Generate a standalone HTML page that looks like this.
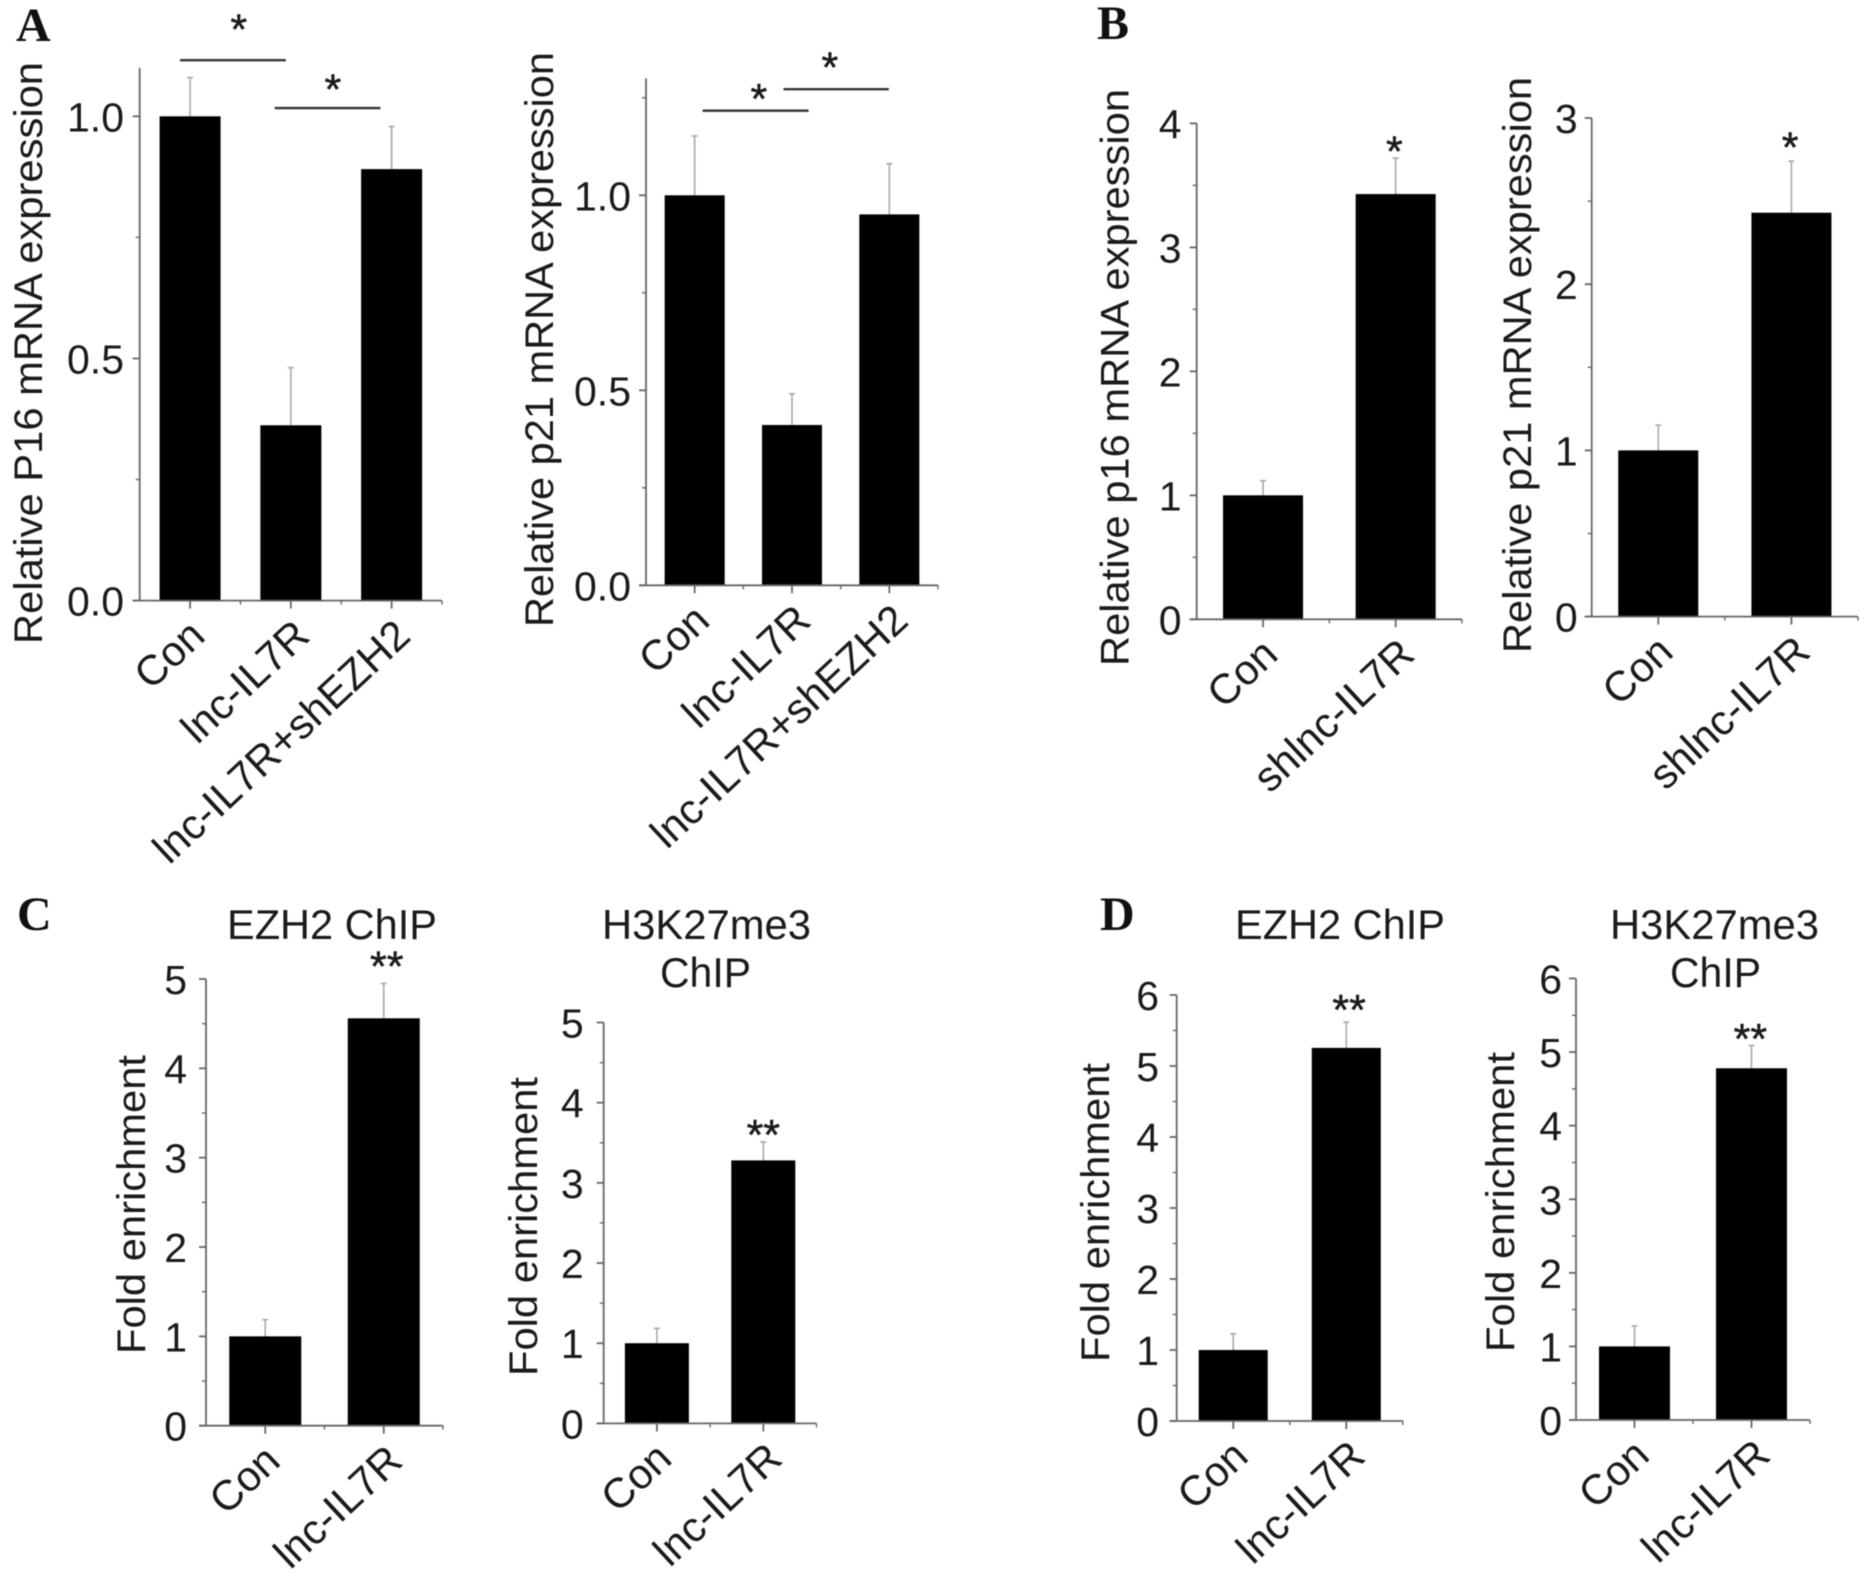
<!DOCTYPE html>
<html lang="en">
<head>
<meta charset="utf-8">
<title>lnc-IL7R qPCR and ChIP bar charts</title>
<style>
html,body{margin:0;padding:0;background:#fff;}
svg{display:block;position:absolute;left:0;top:0;filter:blur(0.6px);}
text{font-family:"Liberation Sans",Arial,sans-serif;fill:#1a1a1a;}
.panel-letter{font-family:"Liberation Serif","Times New Roman",serif;font-weight:bold;font-size:48px;fill:#111;}
</style>
</head>
<body>
<svg id="figure" xmlns="http://www.w3.org/2000/svg" width="1871" height="1580" viewBox="0 0 1871 1580">
<rect x="0" y="0" width="1871" height="1580" fill="#fff"/>
<text class="panel-letter" x="16" y="41">A</text>
<text class="panel-letter" x="1097" y="39">B</text>
<text class="panel-letter" x="17" y="930">C</text>
<text class="panel-letter" x="1100" y="930">D</text>
</svg>
<script>
// ---- Chart data ----
const threeCategories = ['Con', 'lnc-IL7R', 'lnc-IL7R+shEZH2'];
const gainCategories = ['Con', 'lnc-IL7R'];
const knockdownCategories = ['Con', 'shlnc-IL7R'];

const a1Values = [1.0, 0.362, 0.891];
const a1ErrorTops = [1.08, 0.481, 0.979];
const a1MajorTicks = [0, 0.5, 1.0];
const a1TickLabels = ['0.0', '0.5', '1.0'];
const a1MinorTicks = [0.25, 0.75];

const a2Values = [1.0, 0.411, 0.951];
const a2ErrorTops = [1.152, 0.491, 1.081];
const a2MajorTicks = [0, 0.5, 1.0];
const a2TickLabels = ['0.0', '0.5', '1.0'];
const a2MinorTicks = [0.25, 0.75, 1.25];

const b1Values = [1.0, 3.43];
const b1ErrorTops = [1.118, 3.72];
const b1MajorTicks = [0, 1, 2, 3, 4];
const b1TickLabels = ['0', '1', '2', '3', '4'];
const b1MinorTicks = [0.5, 1.5, 2.5, 3.5];

const b2Values = [1.0, 2.43];
const b2ErrorTops = [1.152, 2.74];
const b2MajorTicks = [0, 1, 2, 3];
const b2TickLabels = ['0', '1', '2', '3'];
const b2MinorTicks = [0.5, 1.5, 2.5];

const c1Values = [1.0, 4.56];
const c1ErrorTops = [1.187, 4.95];
const c1MajorTicks = [0, 1, 2, 3, 4, 5];
const c1TickLabels = ['0', '1', '2', '3', '4', '5'];
const c1MinorTicks = [0.5, 1.5, 2.5, 3.5, 4.5];

const c2Values = [1.0, 3.28];
const c2ErrorTops = [1.186, 3.51];
const c2MajorTicks = [0, 1, 2, 3, 4, 5];
const c2TickLabels = ['0', '1', '2', '3', '4', '5'];
const c2MinorTicks = [0.5, 1.5, 2.5, 3.5, 4.5];

const d1Values = [1.0, 5.255];
const d1ErrorTops = [1.228, 5.617];
const d1MajorTicks = [0, 1, 2, 3, 4, 5, 6];
const d1TickLabels = ['0', '1', '2', '3', '4', '5', '6'];
const d1MinorTicks = [0.5, 1.5, 2.5, 3.5, 4.5, 5.5];

const d2Values = [1.0, 4.78];
const d2ErrorTops = [1.279, 5.09];
const d2MajorTicks = [0, 1, 2, 3, 4, 5, 6];
const d2TickLabels = ['0', '1', '2', '3', '4', '5', '6'];
const d2MinorTicks = [0.5, 1.5, 2.5, 3.5, 4.5, 5.5];

// Significance brackets, in category-index / value coordinates
const a1BracketStarts = [-0.1, 0.84];
const a1BracketEnds = [0.95, 1.89];
const a1BracketLevels = [1.116, 1.017];
const a2BracketStarts = [0.081, 0.913];
const a2BracketEnds = [1.17, 1.995];
const a2BracketLevels = [1.217, 1.272];

// Significance marks, in category-index / value coordinates
const a1MarkText = ['*', '*'];
const a1MarkCategory = [0.483, 1.417];
const a1MarkLevel = [1.189, 1.065];
const a2MarkText = ['*', '*'];
const a2MarkCategory = [0.66, 1.389];
const a2MarkLevel = [1.259, 1.339];
const b1MarkText = ['*'];
const b1MarkCategory = [0.99];
const b1MarkLevel = [3.81];
const b2MarkText = ['*'];
const b2MarkCategory = [0.99];
const b2MarkLevel = [2.85];
const c1MarkText = ['**'];
const c1MarkCategory = [1.025];
const c1MarkLevel = [5.19];
const c2MarkText = ['**'];
const c2MarkCategory = [1.0];
const c2MarkLevel = [3.65];
const d1MarkText = ['**'];
const d1MarkCategory = [1.025];
const d1MarkLevel = [5.85];
const d2MarkText = ['**'];
const d2MarkCategory = [0.99];
const d2MarkLevel = [5.24];

// ---- Panel definitions ----
const charts = [
  {id:'a1', yTitle:'Relative P16 mRNA expression', cats:threeCategories, vals:a1Values, errs:a1ErrorTops, major:a1MajorTicks, labels:a1TickLabels, minor:a1MinorTicks,
   left:139.7, right:442, bottom:600.6, top:67.9, yMax:1.1, barW:61, labelRight:124, titleX:42, titleBottom:644, titleTop:62,
   brS:a1BracketStarts, brE:a1BracketEnds, brL:a1BracketLevels, mT:a1MarkText, mC:a1MarkCategory, mL:a1MarkLevel},
  {id:'a2', yTitle:'Relative p21 mRNA expression', cats:threeCategories, vals:a2Values, errs:a2ErrorTops, major:a2MajorTicks, labels:a2TickLabels, minor:a2MinorTicks,
   left:646, right:938, bottom:585.3, top:78.3, yMax:1.3, barW:60, labelRight:631, titleX:553, titleBottom:627, titleTop:52,
   brS:a2BracketStarts, brE:a2BracketEnds, brL:a2BracketLevels, mT:a2MarkText, mC:a2MarkCategory, mL:a2MarkLevel},
  {id:'b1', yTitle:'Relative p16 mRNA expression', cats:knockdownCategories, vals:b1Values, errs:b1ErrorTops, major:b1MajorTicks, labels:b1TickLabels, minor:b1MinorTicks,
   left:1196.7, right:1462, bottom:619.3, top:123.4, yMax:4, barW:80, labelRight:1181.5, titleX:1128.5, titleBottom:666, titleTop:89,
   mT:b1MarkText, mC:b1MarkCategory, mL:b1MarkLevel},
  {id:'b2', yTitle:'Relative p21 mRNA expression', cats:knockdownCategories, vals:b2Values, errs:b2ErrorTops, major:b2MajorTicks, labels:b2TickLabels, minor:b2MinorTicks,
   left:1591.7, right:1858, bottom:616.6, top:118, yMax:3, barW:80, labelRight:1577.7, titleX:1531, titleBottom:653, titleTop:77,
   mT:b2MarkText, mC:b2MarkCategory, mL:b2MarkLevel},
  {id:'c1', yTitle:'Fold enrichment', cats:gainCategories, vals:c1Values, errs:c1ErrorTops, major:c1MajorTicks, labels:c1TickLabels, minor:c1MinorTicks,
   left:206, right:443, bottom:1425.7, top:979, yMax:5, barW:72, labelRight:187, titleX:145, titleBottom:1354, titleTop:1055,
   mT:c1MarkText, mC:c1MarkCategory, mL:c1MarkLevel},
  {id:'c2', yTitle:'Fold enrichment', cats:gainCategories, vals:c2Values, errs:c2ErrorTops, major:c2MajorTicks, labels:c2TickLabels, minor:c2MinorTicks,
   left:603.7, right:816.5, bottom:1423.4, top:1022.5, yMax:5, barW:64, labelRight:583.7, titleX:537, titleBottom:1376, titleTop:1077,
   mT:c2MarkText, mC:c2MarkCategory, mL:c2MarkLevel},
  {id:'d1', yTitle:'Fold enrichment', cats:gainCategories, vals:d1Values, errs:d1ErrorTops, major:d1MajorTicks, labels:d1TickLabels, minor:d1MinorTicks,
   left:1176.7, right:1402.8, bottom:1421, top:995, yMax:6, barW:69, labelRight:1159, titleX:1109, titleBottom:1362, titleTop:1063,
   mT:d1MarkText, mC:d1MarkCategory, mL:d1MarkLevel},
  {id:'d2', yTitle:'Fold enrichment', cats:gainCategories, vals:d2Values, errs:d2ErrorTops, major:d2MajorTicks, labels:d2TickLabels, minor:d2MinorTicks,
   left:1576, right:1810, bottom:1420, top:978.5, yMax:6, barW:71, labelRight:1562, titleX:1514, titleBottom:1352, titleTop:1052,
   mT:d2MarkText, mC:d2MarkCategory, mL:d2MarkLevel}
];

const chartTitles = [
  {text:'EZH2 ChIP', x:227, y:939, len:210},
  {text:'H3K27me3', x:602, y:939, len:209},
  {text:'ChIP', x:660, y:987, len:91},
  {text:'EZH2 ChIP', x:1235, y:939, len:210},
  {text:'H3K27me3', x:1610, y:939, len:209},
  {text:'ChIP', x:1670, y:987, len:91}
];

const NS = 'http://www.w3.org/2000/svg';
const root = document.getElementById('figure');
const AXIS = '#666';
const ERR = '#a8a8a8';

function make(parent, tag, props, txt) {
  const el = document.createElementNS(NS, tag);
  for (const k in props) el.setAttribute(k, props[k]);
  if (txt !== undefined) el.textContent = txt;
  parent.appendChild(el);
  return el;
}

charts.forEach(function (c) {
  const g = make(root, 'g', {});
  
  

  const yScale = function (v) { return c.bottom - (v / c.yMax) * (c.bottom - c.top); };
  const band = (c.right - c.left) / c.cats.length;
  const xScale = function (i) { return c.left + (i + 0.5) * band; };

  // error bars
  c.errs.forEach(function (e, i) {
    const x = xScale(i);
    const stem = make(g, 'line', {x1:x, x2:x, y1:yScale(c.vals[i]), y2:yScale(e), stroke:ERR, 'stroke-width':1.6});
    
    
    const cap = make(g, 'line', {x1:x - 3, x2:x + 3, y1:yScale(e), y2:yScale(e), stroke:ERR, 'stroke-width':1.6});
    
    
  });

  // bars
  c.vals.forEach(function (v, i) {
    const bar = make(g, 'rect', {x:xScale(i) - c.barW / 2, y:yScale(v), width:c.barW, height:yScale(0) - yScale(v), fill:'#000'});
    
    
  });

  // axes
  const yAxis = make(g, 'line', {x1:c.left, x2:c.left, y1:c.top, y2:c.bottom, stroke:AXIS, 'stroke-width':1.8});
  
  
  const xAxis = make(g, 'line', {x1:c.left - 7, x2:c.right, y1:c.bottom, y2:c.bottom, stroke:AXIS, 'stroke-width':1.8});
  
  

  // y ticks
  c.major.forEach(function (v, i) {
    const y = yScale(v);
    const t = make(g, 'line', {x1:c.left - 7, x2:c.left, y1:y, y2:y, stroke:AXIS, 'stroke-width':1.8});
    
    
    const lab = make(g, 'text', {x:c.labelRight, y:y + 15, 'text-anchor':'end', 'font-size':41}, c.labels[i]);
    
    
  });
  c.minor.forEach(function (v) {
    const y = yScale(v);
    const t = make(g, 'line', {x1:c.left - 4, x2:c.left, y1:y, y2:y, stroke:AXIS, 'stroke-width':1.4});
    
    
  });

  // x ticks and labels
  c.cats.forEach(function (name, i) {
    const x = xScale(i);
    const t = make(g, 'line', {x1:x, x2:x, y1:c.bottom, y2:c.bottom + 8, stroke:AXIS, 'stroke-width':1.8});
    
    
    const mx = c.left + (i + 1) * band;
    const m = make(g, 'line', {x1:mx, x2:mx, y1:c.bottom, y2:c.bottom + 4, stroke:AXIS, 'stroke-width':1.4});
    
    
    const ax = x + (name === 'Con' ? 17 : 21);
    const ay = c.bottom + 38;
    const lab = make(g, 'text', {x:ax, y:ay, 'text-anchor':'end', 'font-size':42, transform:'rotate(-43 ' + ax + ' ' + ay + ')'}, name);
    
    
  });

  // y-axis title
  const yt = make(g, 'text', {x:0, y:0, 'font-size':40, textLength:c.titleBottom - c.titleTop, lengthAdjust:'spacingAndGlyphs',
    transform:'translate(' + c.titleX + ' ' + c.titleBottom + ') rotate(-90)'}, c.yTitle);
  
  

  // significance brackets
  (c.brS || []).forEach(function (s, i) {
    const y = yScale(c.brL[i]);
    const b = make(g, 'line', {x1:xScale(s), x2:xScale(c.brE[i]), y1:y, y2:y, stroke:'#333', 'stroke-width':2.4});
    
    
  });

  // significance marks
  c.mT.forEach(function (s, i) {
    const mark = make(g, 'text', {x:xScale(c.mC[i]), y:yScale(c.mL[i]) + 19, 'text-anchor':'middle', 'font-size':43, stroke:'#1a1a1a', 'stroke-width':0.5}, s);
    
    
  });
});

chartTitles.forEach(function (t) {
  const el = make(root, 'text', {x:t.x, y:t.y, 'font-size':42, textLength:t.len, lengthAdjust:'spacingAndGlyphs'}, t.text);
  
  
});
</script>
</body>
</html>
